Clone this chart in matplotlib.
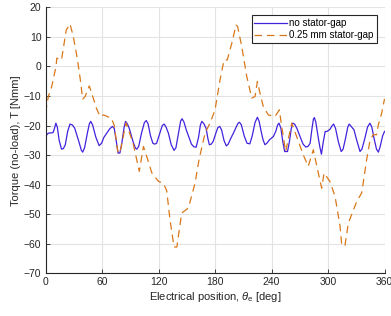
import matplotlib
matplotlib.use("Agg")
import matplotlib.pyplot as plt

plt.rcParams['font.family'] = ['Liberation Sans', 'DejaVu Sans']
plt.rcParams['mathtext.fontset'] = 'custom'
plt.rcParams['mathtext.it'] = 'Liberation Sans:italic'
plt.rcParams['mathtext.rm'] = 'Liberation Sans'

# no stator-gap
x_blue = [0, 1.5, 3, 8, 9.5, 11, 12.5, 14.5, 17, 19, 21, 23.5, 26, 28.5, 31, 35, 38, 39.5,
          41.5, 44.5, 46.5, 48, 50, 53.5, 57, 59.5, 62, 65, 68, 71, 73, 75, 77, 79, 81, 83.5,
          85, 87, 89, 93, 95.5, 97, 99, 102, 105, 107, 109, 111.5, 114, 116, 118, 121, 124,
          126, 128, 130.5, 133.5, 136.5, 138.5, 141, 143.5, 145, 147, 149.5, 152, 155, 157.5,
          160, 162.5, 164.5, 166, 168, 170.5, 172.5, 174, 176, 178, 181, 183, 185, 187, 189.5,
          192, 194, 196.5, 199.5, 202.5, 204.5, 206, 208, 211, 214, 217, 219.5, 222.5, 225,
          226.8, 229, 231, 233, 235, 238, 242, 244.5, 246.5, 248, 250, 252, 254, 257, 259,
          261, 262.5, 264.5, 267, 270, 273.5, 276.5, 279, 281, 283, 284.5, 285.5, 287, 290,
          291.5, 293, 295, 297, 299, 302, 304.5, 306, 308, 311, 314, 316, 318.5, 321, 322.5,
          324.5, 327.5, 330.5, 334, 336, 339, 342, 344.5, 346.5, 349, 351.5, 353.5, 355.5,
          358, 360]
y_blue = [-24.3, -23, -22.6, -22.4, -21, -19.2, -20.5, -25, -28, -27.8, -26.5, -22, -19.5,
          -19.8, -20.9, -25, -28.3, -29, -27.5, -22.5, -19.5, -18.6, -19.8, -24, -26.8, -26,
          -24, -22.6, -21.2, -20.3, -21, -25, -29.3, -29.3, -26, -20.5, -18.6, -19.5, -21,
          -25.5, -27.7, -28, -27, -22.5, -19, -18.3, -19.5, -23.5, -26, -26.3, -26, -23, -20,
          -19.5, -20.5, -22.6, -26.5, -28.4, -27.5, -23, -18.5, -17.7, -18.8, -21.5, -23.7,
          -26.3, -27.2, -27.3, -24, -19.8, -18.6, -19.3, -20.9, -24.5, -26.5, -26.3, -25.4,
          -22.5, -20.7, -20.3, -21.5, -25, -26.9, -26.3, -24.5, -22.6, -20.5, -19.2, -18.9,
          -19.8, -23.5, -26, -26.2, -23.5, -19, -17.2, -18.5, -22, -24.8, -26.5, -26, -24.8,
          -23.7, -22, -19.8, -19.2, -21, -25.5, -28.8, -28.8, -25.5, -21, -19.2, -19.5, -21,
          -23.5, -26.3, -27.3, -27, -26, -21, -17.8, -17.3, -18.8, -24.8, -27.5, -29.7, -25.5,
          -22, -22, -21.3, -20, -19.5, -21, -25.5, -28.8, -28, -24.5, -20.5, -19.5, -20.3,
          -21.4, -25, -28.8, -28, -24.5, -20.5, -19.2, -20.5, -24.5, -28, -29, -27, -23.5,
          -22]

# 0.25 mm stator-gap
x_orange = [0, 3, 6.6, 11.2, 12, 17, 22, 26, 29.5, 34, 37, 39.5, 42, 46.5, 50, 54, 58, 61.5,
            66, 70, 73, 77, 79, 85.5, 93, 99.6, 104, 108, 113, 120, 125, 128.7, 132.2, 136.5,
            139.5, 144.6, 151.7, 158.8, 163, 169.4, 174.7, 180, 185.3, 189.6, 193, 197.8,
            202.3, 204, 208.4, 213.7, 219, 222.5, 225, 227.8, 231.3, 236.6, 243.7, 248.3,
            250.8, 255, 261.5, 267, 273.8, 279, 284.4, 289.7, 293.3, 295.8, 302, 307.5,
            312.8, 314.6, 318, 321.6, 330.5, 335.8, 341, 344.6, 348, 351.6, 353.4, 357, 360]
y_orange = [-15.7, -10.2, -6.8, 0, 2.8, 2.2, 12.3, 14.4, 10.1, 2.2, -4.6, -11.1, -10.2, -6.6,
            -10, -14.1, -17, -16.4, -17, -17.5, -20, -29.3, -29.3, -19.1, -26, -35.5, -27.1,
            -31, -36.1, -38.9, -39.5, -42, -51.9, -61.1, -61.1, -49.6, -47.9, -39.5, -31.6,
            -22.6, -19.2, -14.7, -4.6, 2.2, 2.2, 7.8, 14, 13.5, 6.7, -3.4, -10.7, -10.2, -5.1,
            -9.1, -13.6, -16.4, -17, -14.7, -20.3, -28.8, -19.2, -24, -30, -33.8, -28.2,
            -36.1, -41.2, -36.1, -38.9, -44, -54.1, -60.6, -60.6, -53, -45.7, -42.8, -31.6,
            -25, -23.1, -23.1, -19.8, -15.8, -11]

x_ticks = [0, 60, 120, 180, 240, 300, 360]
y_ticks = [-70, -60, -50, -40, -30, -20, -10, 0, 10, 20]

fig = plt.figure(figsize=(3.91, 3.16), dpi=100)
ax = fig.add_axes([0.1164, 0.1351, 0.867, 0.8418])

ax.plot(x_blue, y_blue, color='#4422dd', lw=0.9, label='no stator-gap')
ax.plot(x_orange, y_orange, color='#d9781a', lw=0.9, ls=(0, (6, 4)), label='0.25 mm stator-gap')

ax.set_xlim(0, 360)
ax.set_ylim(-70, 20)
ax.set_xticks(x_ticks)
ax.set_yticks(y_ticks)
ax.grid(True, color='#e3e3e3', lw=0.8)
ax.set_axisbelow(True)
for s in ['top', 'right']:
    ax.spines[s].set_visible(False)
for s in ['left', 'bottom']:
    ax.spines[s].set_color('#262626')
    ax.spines[s].set_linewidth(0.8)
ax.tick_params(direction='in', length=3, width=0.6, labelsize=7.5, colors='#262626', pad=3)

ax.set_xlabel(r'Electrical position, $\theta_{\rm e}$ [deg]', fontsize=8, color='#262626', labelpad=2)
ax.set_ylabel('Torque (no-load), T [Nmm]', fontsize=8, color='#262626', labelpad=2)

leg = ax.legend(loc='upper right', fontsize=7, fancybox=False, edgecolor='#262626',
                framealpha=1, borderpad=0.3, handlelength=3.3, handletextpad=0.3,
                labelspacing=0.2, borderaxespad=0.8)
leg.get_frame().set_linewidth(0.8)

fig.savefig('out.png', dpi=100)
